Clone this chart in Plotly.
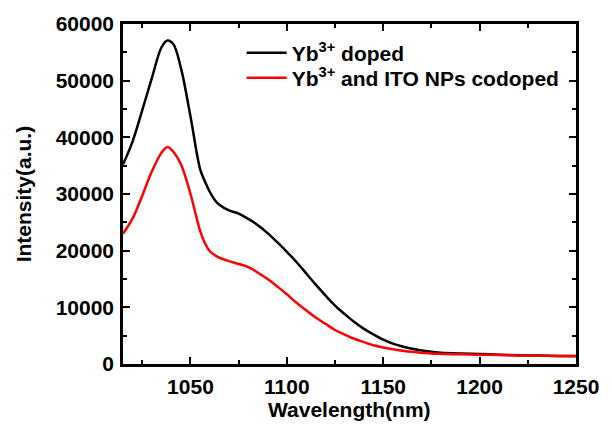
import plotly.graph_objects as go

wavelength = [1015, 1020, 1025, 1030, 1035, 1038, 1041, 1045, 1050, 1055, 1057.5, 1060, 1062.5,
              1065, 1070, 1075, 1080, 1085, 1090, 1095, 1100, 1105, 1110, 1115, 1120, 1125,
              1130, 1135, 1140, 1145, 1150, 1155, 1160, 1165, 1170, 1175, 1180, 1190, 1200,
              1210, 1220, 1230, 1240, 1250]

yb_doped = [35200, 39300, 44800, 50500, 55900, 57100, 56500, 52300, 43700, 34400, 32200, 30400,
            29000, 28100, 27100, 26550, 25600, 24500, 23100, 21500, 19800, 18000, 16000, 14000,
            12100, 10300, 8800, 7400, 6200, 5200, 4300, 3600, 3100, 2700, 2400, 2150, 2000,
            1850, 1750, 1650, 1550, 1480, 1430, 1400]

yb_ito_codoped = [23000, 25700, 29700, 34000, 37300, 38300, 37500, 35300, 30000, 23500, 21300,
                  19900, 19250, 18750, 18150, 17650, 17100, 16100, 15000, 13700, 12300, 10800,
                  9500, 8200, 7100, 6000, 5200, 4450, 3850, 3300, 2900, 2600, 2350, 2150, 2000,
                  1850, 1780, 1700, 1650, 1580, 1520, 1470, 1420, 1380]

series_names = ["Yb<sup>3+</sup> doped", "Yb<sup>3+</sup> and ITO NPs codoped"]
x_ticks = [1050, 1100, 1150, 1200, 1250]
y_ticks = [0, 10000, 20000, 30000, 40000, 50000, 60000]

FONT = "Liberation Sans, Arial, sans-serif"

fig = go.Figure()
fig.add_trace(go.Scatter(x=wavelength, y=yb_doped, mode="lines", name=series_names[0],
                         legend="legend",
                         line=dict(color="black", width=2.5, shape="spline", smoothing=1.0)))
fig.add_trace(go.Scatter(x=wavelength, y=yb_ito_codoped, mode="lines", name=series_names[1],
                         legend="legend2",
                         line=dict(color="#ff0000", width=2.5, shape="spline", smoothing=1.0)))

axis_common = dict(
    showline=True, linecolor="black", linewidth=2.5, mirror="ticks",
    ticks="inside", ticklen=7, tickwidth=2, tickcolor="black",
    showgrid=False, zeroline=False,
    tickfont=dict(family=FONT, size=21, color="black", weight="bold"),
)

fig.update_xaxes(range=[1015, 1250], tickvals=x_ticks, ticktext=[str(v) for v in x_ticks],
                 ticklabelstandoff=2,
                 minor=dict(dtick=25, tick0=1000, ticks="inside", ticklen=4, tickwidth=2,
                            tickcolor="black", showgrid=False),
                 **axis_common)
fig.update_yaxes(range=[0, 60000], tickvals=y_ticks, ticktext=[str(v) for v in y_ticks],
                 ticklabelstandoff=2,
                 minor=dict(dtick=5000, tick0=0, ticks="inside", ticklen=4, tickwidth=2,
                            tickcolor="black", showgrid=False),
                 **axis_common)

fig.add_annotation(text="Wavelength(nm)", xref="paper", yref="paper", x=0.5, y=-0.135,
                   showarrow=False, yanchor="middle", xanchor="center",
                   font=dict(family=FONT, size=21, color="black", weight="bold"))
fig.add_annotation(text="Intensity(a.u.)", xref="paper", yref="paper", x=-0.22, y=0.5,
                   showarrow=False, textangle=-90, xanchor="center", yanchor="middle",
                   font=dict(family=FONT, size=21, color="black", weight="bold"))

legend_common = dict(xanchor="left", yanchor="middle", bgcolor="rgba(0,0,0,0)",
                     itemwidth=40, tracegroupgap=0,
                     font=dict(family=FONT, size=21, color="black", weight="bold"))

fig.update_layout(
    width=611, height=432,
    margin=dict(l=123, r=24, t=19, b=68),
    paper_bgcolor="white", plot_bgcolor="white",
    showlegend=True,
    legend=dict(x=0.262, y=0.9145, **legend_common),
    legend2=dict(x=0.262, y=0.841, **legend_common),
)

fig.write_html("out.html")
